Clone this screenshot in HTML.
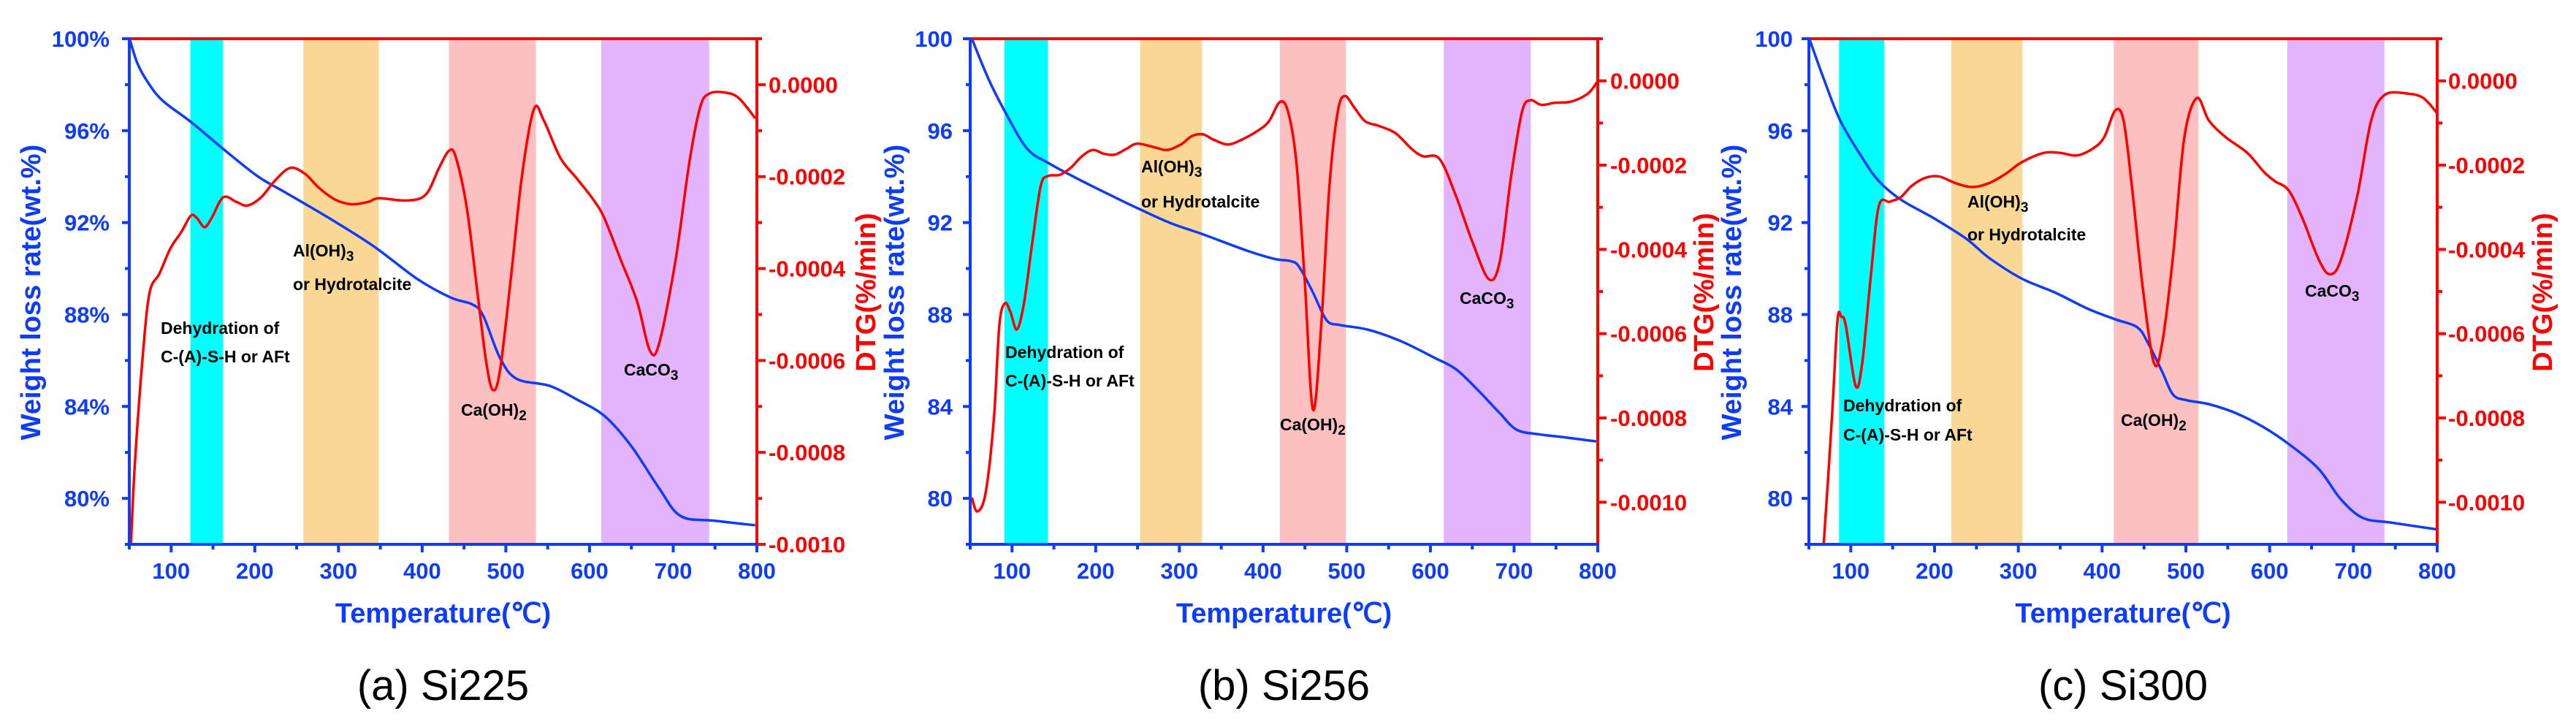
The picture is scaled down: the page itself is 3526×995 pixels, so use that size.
<!DOCTYPE html>
<html><head><meta charset="utf-8"><style>
html,body{margin:0;padding:0;background:#fff;}
svg{display:block;font-family:"Liberation Sans",Arial,sans-serif;}
</style></head><body>
<svg id="fig" width="3526" height="995" viewBox="0 0 3526 995" xmlns="http://www.w3.org/2000/svg"></svg>
<script>
// ---- data (T in °C, weight %, DTG in 1e-4 %/min) ----
const tgT1=[51,60,73,90,125,165,204,237,289,342,394,434,460,473,493,513,552,585,618,650,683,709,749,798];
const tgW1=[99.92,98.9,98.06,97.3,96.34,95.12,94.0,93.3,92.19,90.97,89.55,88.74,88.44,87.94,86.11,85.2,84.9,84.3,83.58,82.27,80.45,79.23,79.03,78.83];
const dtT1=[52,56.6,66.4,74.3,86,99.2,112.3,123.5,130.7,139.9,148.4,162.2,178,191,207.5,223.9,242.3,260,276.4,296,315.7,335.4,348.6,381.4,404.3,420.7,432.5,440.4,453.5,466.7,476.5,484.4,492.9,506,519.2,533.6,545.4,565.1,584.8,604.5,617.6,637.3,656.9,672,683.2,702.9,719.3,732.4,743.6,761.9,778.3,798];
const dtV1=[-9.97,-8.26,-5.83,-4.52,-4.11,-3.56,-3.2,-2.85,-2.9,-3.1,-2.9,-2.45,-2.55,-2.63,-2.45,-2.09,-1.81,-1.94,-2.24,-2.5,-2.6,-2.55,-2.47,-2.52,-2.39,-1.79,-1.43,-1.59,-2.7,-4.62,-6.03,-6.64,-6.23,-4.21,-1.99,-0.53,-0.78,-1.59,-2.04,-2.5,-2.9,-3.81,-4.72,-5.78,-5.63,-3.81,-1.69,-0.48,-0.19,-0.17,-0.29,-0.73];
const tgT2=[52,71.7,91.4,117.7,144,183.5,222.9,249.2,288.7,328.1,380.7,413.6,433.3,443.2,459.6,476,492.5,525.3,564.8,604.2,630.5,656.8,683.1,702.9,729.2,762,798.2];
const tgW2=[100,98.26,96.84,95.23,94.58,93.81,93.1,92.64,91.99,91.49,90.78,90.42,90.32,90.07,88.96,87.75,87.54,87.34,86.84,86.13,85.62,84.71,83.7,82.99,82.79,82.65,82.48];
const dtT2=[52,58.5,68.4,78.3,84.8,91.4,98,105.9,114.4,124.3,134.2,142.7,157.2,170.3,183.5,196.6,209.8,222.9,236.1,249.2,268.9,285.4,301.8,315,328.1,341.3,357.7,374.1,393.9,407,420.2,430,439.9,449.7,459.6,469.5,479.3,489.2,497.7,508.9,522.1,538.5,558.2,577.9,591.1,610.8,630.5,650.3,670,683.1,696.3,709.4,719.3,732.4,748.9,768.6,788.3,799.5];
const dtV2=[-9.89,-10.22,-9.78,-8.02,-5.81,-5.28,-5.48,-5.9,-5.26,-3.83,-2.5,-2.26,-2.23,-2.06,-1.79,-1.64,-1.73,-1.75,-1.62,-1.49,-1.57,-1.64,-1.51,-1.31,-1.27,-1.4,-1.51,-1.4,-1.18,-0.96,-0.5,-0.74,-1.95,-4.71,-7.8,-5.81,-2.5,-0.74,-0.36,-0.63,-0.96,-1.07,-1.24,-1.62,-1.79,-1.85,-2.73,-3.83,-4.71,-4.27,-2.28,-0.74,-0.46,-0.57,-0.52,-0.49,-0.3,-0.02];
const tgT3=[51.3,67.7,87.4,113.7,133.4,159.7,199.1,238.5,264.8,304.2,343.6,383,415.8,442.1,455.2,471.6,484.8,501.2,527.4,560.3,593.1,625.9,658.8,685,711.3,744.2,800];
const tgW3=[99.92,98.26,96.44,94.82,93.81,93.0,92.19,91.28,90.47,89.56,88.96,88.25,87.79,87.44,86.73,85.52,84.51,84.27,84.1,83.7,83.09,82.28,81.27,79.96,79.15,78.95,78.65];
const dtT3=[60,67.7,77.6,84.1,88.7,94,105.8,113.7,123.6,133.4,146.5,159.7,172.8,189.2,205.6,225.3,245,264.8,284.5,304.2,330.4,350.1,369.8,389.5,402.7,415.8,425.6,435.5,448.6,461.8,471.6,484.8,497.9,513,527.4,547.1,573.4,593.1,606.2,622.7,639.1,658.8,671.9,685,704.8,721.2,737.6,763.9,783.6,800];
const dtV3=[-13,-10.99,-7.96,-5.69,-5.6,-5.8,-7.24,-6.69,-4.7,-2.98,-2.87,-2.76,-2.49,-2.3,-2.27,-2.43,-2.52,-2.43,-2.21,-1.93,-1.71,-1.71,-1.77,-1.6,-1.33,-0.7,-0.94,-2.49,-4.92,-6.69,-6.24,-4.14,-1.38,-0.41,-0.94,-1.33,-1.71,-2.16,-2.38,-2.6,-3.26,-4.25,-4.59,-4.25,-2.71,-0.94,-0.33,-0.3,-0.41,-0.77];
const bands1=[[123,162],[258,348],[432,536],[614,743]];
const bands2=[[91,143],[253,327],[420,499],[616,720]];
const bands3=[[86,140],[220,305],[414,515],[621,737]];
const xTicks=[100,200,300,400,500,600,700,800];
const leftTicks=[80,84,88,92,96,100];
const rightTicks=[0,-2,-4,-6,-8,-10];
const rightLabels=["0.0000","-0.0002","-0.0004","-0.0006","-0.0008","-0.0010"];
const captions=["(a) Si225","(b) Si256","(c) Si300"];

const NS="http://www.w3.org/2000/svg";
const svg=document.getElementById('fig');
const BLUE="#0d3bff", RED="#ff0000";
const bandColors=["#00ffff","#f9d794","#fcc0c0","#e2b4fc"];
function mk(tag,attrs,parent){const e=document.createElementNS(NS,tag);for(const k in attrs)e.setAttribute(k,attrs[k]);(parent||svg).appendChild(e);return e;}
function smooth(pts){
  let d='M'+pts[0][0]+','+pts[0][1];
  for(let i=0;i<pts.length-1;i++){
    const p0=pts[i-1]||pts[i],p1=pts[i],p2=pts[i+1],p3=pts[i+2]||p2;
    const c1x=p1[0]+(p2[0]-p0[0])/6,c1y=p1[1]+(p2[1]-p0[1])/6;
    const c2x=p2[0]-(p3[0]-p1[0])/6,c2y=p2[1]-(p3[1]-p1[1])/6;
    d+=` C${c1x},${c1y} ${c2x},${c2y} ${p2[0]},${p2[1]}`;
  }
  return d;
}

const panels=[
 {x0:177,x1:1036,rmin:-10,rmax:1,pct:true,tgT:tgT1,tgW:tgW1,dtT:dtT1,dtV:dtV1,bands:bands1,lblR:150,rLab:1052,lTitle:41,rTitle:1184,
  ann:[[220,457,"Dehydration of"],[220,496,"C-(A)-S-H or AFt"],[401,351,"Al(OH)","3"],[401,397,"or Hydrotalcite"],[631,569,"Ca(OH)","2"],[854,514,"CaCO","3"]]},
 {x0:1328,x1:2187,rmin:-11,rmax:1,pct:false,tgT:tgT2,tgW:tgW2,dtT:dtT2,dtV:dtV2,bands:bands2,lblR:1304,rLab:2204,lTitle:1223,rTitle:2331,
  ann:[[1376,490,"Dehydration of"],[1376,529,"C-(A)-S-H or AFt"],[1562,236,"Al(OH)","3"],[1562,284,"or Hydrotalcite"],[1752,589,"Ca(OH)","2"],[1998,416,"CaCO","3"]]},
 {x0:2476,x1:3336,rmin:-11,rmax:1,pct:false,tgT:tgT3,tgW:tgW3,dtT:dtT3,dtV:dtV3,bands:bands3,lblR:2454,rLab:3351,lTitle:2369,rTitle:3479,
  ann:[[2523,563,"Dehydration of"],[2523,603,"C-(A)-S-H or AFt"],[2693,284,"Al(OH)","3"],[2693,329,"or Hydrotalcite"],[2903,583,"Ca(OH)","2"],[3155,406,"CaCO","3"]]}
];
const Y0=53,Y1=745;

panels.forEach((p,i)=>{
  const g=mk('g',{});
  
  
  const sx=t=>p.x0+(t-50)/750*(p.x1-p.x0);
  const sl=v=>Y1-(v-78)/22*(Y1-Y0);
  const sr=v=>Y1-(v-p.rmin)/(p.rmax-p.rmin)*(Y1-Y0);
  const cid='clip'+i;
  const cp=mk('clipPath',{id:cid},g);mk('rect',{x:p.x0,y:Y0,width:p.x1-p.x0,height:Y1-Y0},cp);
  p.bands.forEach((b,j)=>{
    const r=mk('rect',{x:sx(b[0]),y:Y0,width:sx(b[1])-sx(b[0]),height:Y1-Y0,fill:bandColors[j]},g);
    
    
  });
  const tg=mk('path',{d:smooth(p.tgT.map((t,k)=>[sx(t),sl(p.tgW[k])])),fill:'none',stroke:BLUE,'stroke-width':3.5,'stroke-linejoin':'round','clip-path':'url(#'+cid+')'},g);
  
  
  const dt=mk('path',{d:smooth(p.dtT.map((t,k)=>[sx(t),sr(p.dtV[k])])),fill:'none',stroke:RED,'stroke-width':3.5,'stroke-linejoin':'round','clip-path':'url(#'+cid+')'},g);
  
  
  mk('line',{x1:p.x0,y1:Y0,x2:p.x1,y2:Y0,stroke:RED,'stroke-width':4},g);
  mk('line',{x1:p.x1,y1:Y0,x2:p.x1,y2:Y1,stroke:RED,'stroke-width':4},g);
  mk('line',{x1:p.x0,y1:Y0-2,x2:p.x0,y2:Y1+2,stroke:BLUE,'stroke-width':4},g);
  mk('line',{x1:p.x0-2,y1:Y1,x2:p.x1+2,y2:Y1,stroke:BLUE,'stroke-width':4},g);
  for(let t=50;t<=800;t+=50){const mj=t%100===0;mk('line',{x1:sx(t),y1:Y1,x2:sx(t),y2:Y1+(mj?11:7),stroke:BLUE,'stroke-width':4},g);}
  xTicks.forEach(t=>{const e=mk('text',{x:sx(t),y:792,'text-anchor':'middle','font-size':31,'font-weight':'bold',fill:BLUE},g);e.textContent=t;
    
    });
  for(let v=78;v<=100;v+=2){const mj=v%4===0;mk('line',{x1:p.x0,y1:sl(v),x2:p.x0-(mj?10:6),y2:sl(v),stroke:BLUE,'stroke-width':4},g);}
  leftTicks.forEach(v=>{const e=mk('text',{x:p.lblR,y:sl(v)+11,'text-anchor':'end','font-size':31,'font-weight':'bold',fill:BLUE},g);e.textContent=v+(p.pct?'%':'');
    
    });
  for(let v=p.rmin;v<=p.rmax;v+=1){if(v===p.rmin&&v!==-10)continue;const mj=v%2===0;mk('line',{x1:p.x1,y1:sr(v),x2:p.x1+(mj?12:7),y2:sr(v),stroke:RED,'stroke-width':4},g);}
  rightTicks.forEach((v,k)=>{const e=mk('text',{x:p.rLab,y:sr(v)+11,'font-size':31,'font-weight':'bold',fill:RED},g);e.textContent=rightLabels[k];
    
    });
  let e=mk('text',{x:(p.x0+p.x1)/2,y:852,'text-anchor':'middle','font-size':38,'font-weight':'bold',fill:BLUE},g);e.textContent='Temperature(℃)';
  
  
  e=mk('text',{x:0,y:0,transform:`translate(${p.lTitle+14},400) rotate(-90)`,'text-anchor':'middle','font-size':38,'font-weight':'bold',fill:BLUE},g);e.textContent='Weight loss rate(wt.%)';
  
  
  e=mk('text',{x:0,y:0,transform:`translate(${p.rTitle+14},400) rotate(-90)`,'text-anchor':'middle','font-size':38,'font-weight':'bold',fill:RED},g);e.textContent='DTG(%/min)';
  
  
  e=mk('text',{x:(p.x0+p.x1)/2,y:958,'text-anchor':'middle','font-size':58,fill:'#000'},g);e.textContent=captions[i];
  
  
  p.ann.forEach(a=>{
    const t=mk('text',{x:a[0],y:a[1],'font-size':23,'font-weight':'bold',fill:'#000'},g);
    
    
    t.appendChild(document.createTextNode(a[2]));
    if(a[3]){const s=mk('tspan',{dy:6,'font-size':19},t);s.textContent=a[3];}
  });
});
</script>
</body></html>
